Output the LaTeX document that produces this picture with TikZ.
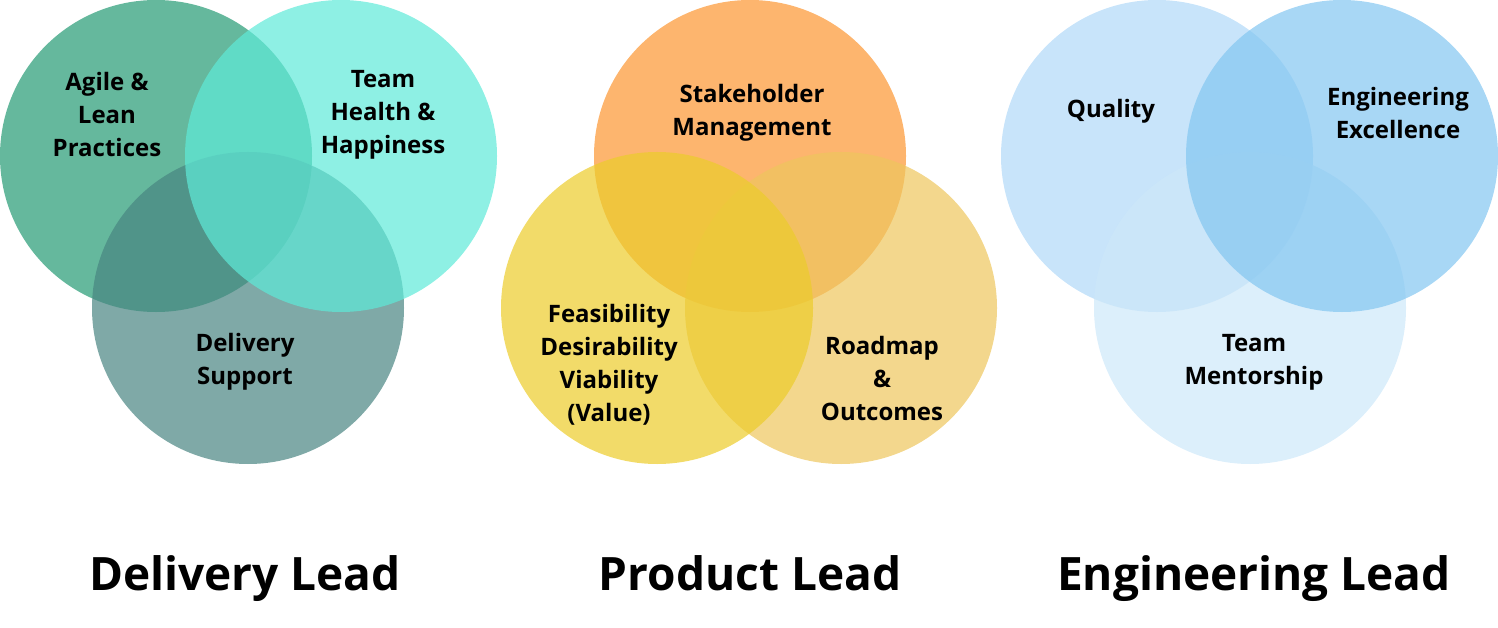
\documentclass[tikz,border=0pt]{standalone}
\usepackage{fontspec}
\setmainfont{Open Sans}
\definecolor{agile}{RGB}{36,154,115}
\definecolor{health}{RGB}{94,234,216}
\definecolor{support}{RGB}{72,132,129}
\definecolor{stake}{RGB}{252,149,49}
\definecolor{feas}{RGB}{236,204,42}
\definecolor{road}{RGB}{238,198,92}
\definecolor{quality}{RGB}{176,216,248}
\definecolor{excel}{RGB}{131,198,241}
\definecolor{mentor}{RGB}{205,232,249}
\tikzset{venn/.style={circle, minimum size=312pt, inner sep=0pt, fill=#1, fill opacity=0.7, draw=none},
         lbl/.style={align=center, font=\fontsize{24}{33}\selectfont\bfseries},
         role/.style={anchor=base, font=\fontsize{46}{50}\selectfont\bfseries}}
\begin{document}
\begin{tikzpicture}[x=1pt, y=-1pt]
\useasboundingbox (0,0) rectangle (1498,628);
% delivery lead
\node[venn=agile] (agile) at (156,156) {};
\node[venn=support] (support) at (248,308) {};
\node[venn=health] (health) at (341,156) {};
\node[lbl] (agiletxt) at (107,115) {Agile \&\\Lean\\Practices};
\node[lbl] (healthtxt) at (383,115) {Team\\Health \&\\Happiness};
\node[lbl] (supporttxt) at (245,362) {Delivery\\Support};
\node[role] (delivery) at (245,590) {Delivery Lead};
% product lead
\node[venn=stake] (stake) at (750,156) {};
\node[venn=road] (road) at (841,308) {};
\node[venn=feas] (feas) at (657,308) {};
\node[lbl] (staketxt) at (752,113) {Stakeholder\\Management};
\node[lbl] (feastxt) at (609,365) {Feasibility\\Desirability\\Viability\\(Value)};
\node[lbl] (roadtxt) at (882,378) {Roadmap\\\&\\Outcomes};
\node[role] (product) at (750,590) {Product Lead};
% engineering lead
\node[venn=quality] (quality) at (1157,156) {};
\node[venn=mentor] (mentor) at (1250,308) {};
\node[venn=excel] (excel) at (1342,156) {};
\node[lbl] (qualitytxt) at (1111,111) {Quality};
\node[lbl] (exceltxt) at (1398,113) {Engineering\\Excellence};
\node[lbl] (mentortxt) at (1254,362) {Team\\Mentorship};
\node[role] (engineering) at (1254,590) {Engineering Lead};
\end{tikzpicture}
\end{document}
